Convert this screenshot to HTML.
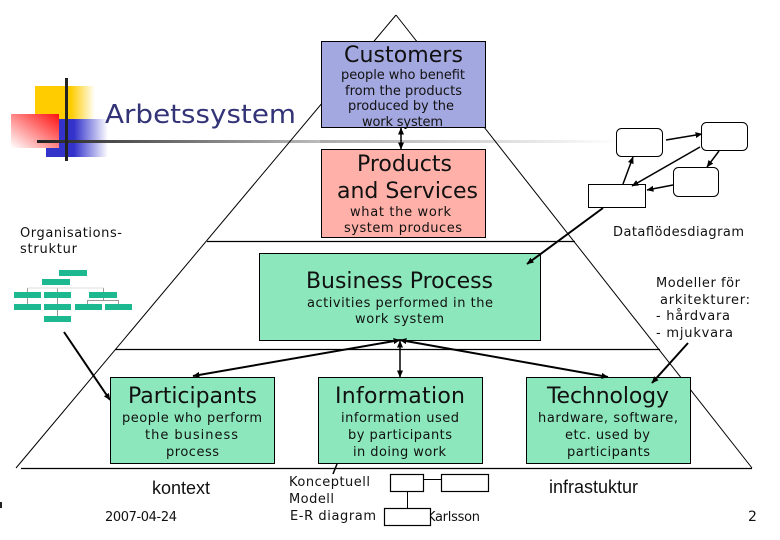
<!DOCTYPE html>
<html>
<head>
<meta charset="utf-8">
<style>
html,body{margin:0;padding:0;background:#fff}
svg{display:block}
text{font-family:"DejaVu Sans","Liberation Sans",sans-serif;fill:#111}
.a{font-family:"Liberation Sans",sans-serif}
</style>
</head>
<body>
<svg width="780" height="540" viewBox="0 0 780 540" xmlns="http://www.w3.org/2000/svg">
<defs>
<linearGradient id="y"><stop offset=".6" stop-color="#ffcc00"/><stop offset="1" stop-color="#fff"/></linearGradient>
<linearGradient id="b"><stop offset=".45" stop-color="#3333cc"/><stop offset="1" stop-color="#fff"/></linearGradient>
<linearGradient id="r" x1="1" y1="0" x2="0" y2="1"><stop offset="0" stop-color="#ff1010"/><stop offset="1" stop-color="#fff"/></linearGradient>
<linearGradient id="l"><stop offset="0" stop-color="#222"/><stop offset=".55" stop-color="#777"/><stop offset="1" stop-color="#bbb"/></linearGradient>
<linearGradient id="l2"><stop offset="0" stop-color="#aaa"/><stop offset="1" stop-color="#fff"/></linearGradient>
<marker id="m" markerWidth="7" markerHeight="6" refX="6.500" refY="3" orient="auto" markerUnits="userSpaceOnUse"><path d="M0 0L7 3L0 6z" fill="#000"/></marker>
<marker id="s" markerWidth="7" markerHeight="6" refX=".5" refY="3" orient="auto" markerUnits="userSpaceOnUse"><path d="M7 0L0 3L7 6z" fill="#000"/></marker>
</defs>

<!-- logo -->
<rect x="35" y="86" width="60" height="33" fill="url(#y)"/>
<rect x="46" y="119" width="62" height="38" fill="url(#b)"/>
<rect x="11" y="114" width="48" height="34" fill="url(#r)"/>
<rect x="37" y="140" width="283" height="3" fill="url(#l)"/>
<rect x="320" y="140" width="300" height="3" fill="url(#l2)"/>
<rect x="65" y="78" width="3" height="83" fill="#222"/>

<text x="105" y="123" font-size="26" style="fill:#333377" textLength="191" lengthAdjust="spacingAndGlyphs">Arbetssystem</text>

<!-- pyramid -->
<path d="M396 15L16 468M396 15L752 468" stroke="#000" fill="none" stroke-width="1"/>
<path d="M21 468.500H752M207 241.500H575M115 349.500H660" stroke="#000" fill="none" stroke-width="1.300"/>

<!-- boxes -->
<rect x="321.500" y="41.500" width="164" height="86" fill="#a4a8e0" stroke="#000"/>
<rect x="321.500" y="149.500" width="164" height="88" fill="#ffb0a8" stroke="#000"/>
<rect x="259.500" y="253.500" width="281" height="87" fill="#8ce8bc" stroke="#000"/>
<rect x="110.500" y="377.500" width="164" height="86" fill="#8ce8bc" stroke="#000"/>
<rect x="318.500" y="377.500" width="164" height="86" fill="#8ce8bc" stroke="#000"/>
<rect x="526.500" y="377.500" width="164" height="86" fill="#8ce8bc" stroke="#000"/>

<!-- center arrows -->
<g stroke="#000" stroke-width="1.500" fill="none">
<line x1="401" y1="128" x2="401" y2="149" marker-start="url(#s)" marker-end="url(#m)"/>
<line x1="400" y1="341" x2="400" y2="377" marker-start="url(#s)" marker-end="url(#m)"/>
<line x1="400" y1="340" x2="193" y2="376" marker-start="url(#s)" marker-end="url(#m)" stroke-width="2"/>
<line x1="400" y1="340" x2="608" y2="377" marker-start="url(#s)" marker-end="url(#m)" stroke-width="2"/>
<!-- side arrows -->
<line x1="64" y1="332" x2="110" y2="400" marker-end="url(#m)" stroke-width="2"/>
<line x1="603" y1="208" x2="527" y2="264" marker-end="url(#m)" stroke-width="2"/>
<line x1="688" y1="343" x2="652" y2="383" marker-end="url(#m)" stroke-width="2"/>
<line x1="337" y1="464" x2="333" y2="474" stroke-width="1.500"/>
</g>

<!-- text in boxes -->
<text x="344" y="62" font-size="22" textLength="119">Customers</text>
<text x="341" y="79" font-size="13" textLength="124">people who benefit</text>
<text x="345" y="95" font-size="13" textLength="117">from the products</text>
<text x="348" y="110" font-size="13" textLength="106">produced by the</text>
<text x="362" y="126" font-size="13" textLength="81">work system</text>

<text x="357" y="171" font-size="22" textLength="95">Products</text>
<text x="337" y="198" font-size="22" textLength="141">and Services</text>
<text x="350" y="216" font-size="13" textLength="101">what the work</text>
<text x="344" y="232" font-size="13" textLength="118">system produces</text>

<text x="306" y="288" font-size="22" textLength="187">Business Process</text>
<text x="307" y="307" font-size="13" textLength="186">activities performed in the</text>
<text x="355" y="323" font-size="13" textLength="89">work system</text>

<text x="128" y="403" font-size="22" textLength="129">Participants</text>
<text x="122" y="422" font-size="13" textLength="140">people who perform</text>
<text x="145" y="439" font-size="13" textLength="93">the business</text>
<text x="166" y="456" font-size="13" textLength="53">process</text>

<text x="335" y="403" font-size="22" textLength="130">Information</text>
<text x="341" y="422" font-size="13" textLength="118">information used</text>
<text x="348" y="439" font-size="13" textLength="104">by participants</text>
<text x="353" y="456" font-size="13" textLength="93">in doing work</text>

<text x="547" y="403" font-size="22" textLength="122">Technology</text>
<text x="538" y="422" font-size="13" textLength="140">hardware, software,</text>
<text x="565" y="439" font-size="13" textLength="85">etc. used by</text>
<text x="567" y="456" font-size="13" textLength="83">participants</text>

<!-- side labels -->
<text x="20" y="237" font-size="13" textLength="102">Organisations-</text>
<text x="20" y="253" font-size="13" textLength="57">struktur</text>
<text x="613" y="236" font-size="13" textLength="131">Dataflödesdiagram</text>
<text x="656" y="287" font-size="13" textLength="84">Modeller för</text>
<text x="660" y="304" font-size="13" textLength="90">arkitekturer:</text>
<text x="656" y="320" font-size="13" textLength="74">- hårdvara</text>
<text x="656" y="337" font-size="13" textLength="77">- mjukvara</text>
<text x="152" y="494" font-size="18" class="a" textLength="58">kontext</text>
<text x="549" y="493" font-size="18" class="a" textLength="89">infrastuktur</text>
<text x="105" y="521" font-size="13" textLength="72">2007-04-24</text>
<text x="289" y="486" font-size="13" textLength="81">Konceptuell</text>
<text x="289" y="503" font-size="13" textLength="45">Modell</text>
<text x="290" y="520" font-size="13" textLength="86">E-R diagram</text>

<!-- org chart -->
<path d="M27.500 288V304M57.500 288V316M103.500 288V292M103.500 298V300M87.500 304V300.500H118.500V304" stroke="#999" stroke-width="1" fill="none"/>
<path d="M27.500 288H103.500" stroke="#ddd" stroke-width="1" fill="none"/>
<g fill="#1cb890">
<rect x="59" y="270" width="28" height="6"/>
<rect x="42" y="279" width="28" height="6"/>
<rect x="14" y="292" width="27" height="6"/>
<rect x="44" y="292" width="27" height="6"/>
<rect x="89" y="292" width="28" height="6"/>
<rect x="14" y="304" width="27" height="6"/>
<rect x="44" y="304" width="27" height="6"/>
<rect x="75" y="304" width="27" height="6"/>
<rect x="105" y="304" width="27" height="6"/>
<rect x="44" y="316" width="27" height="6"/>
</g>

<!-- data flow diagram -->
<g fill="#fff" stroke="#000">
<rect x="616.500" y="128.500" width="46" height="28" rx="5"/>
<rect x="701.500" y="122.500" width="46" height="28" rx="5"/>
<rect x="673.500" y="167.500" width="45" height="29" rx="5"/>
<rect x="588.500" y="184.500" width="57" height="23"/>
</g>
<g stroke="#000" stroke-width="1.500" fill="none">
<line x1="666" y1="140" x2="702" y2="134" marker-end="url(#m)"/>
<line x1="700" y1="147" x2="632" y2="186" marker-end="url(#m)"/>
<line x1="719" y1="151" x2="707" y2="167" marker-end="url(#m)"/>
<line x1="673" y1="185" x2="647" y2="190" marker-end="url(#m)"/>
<line x1="623" y1="184" x2="633" y2="157" marker-end="url(#m)"/>
</g>

<!-- ER diagram -->
<text x="427" y="521" font-size="13" textLength="53">Karlsson</text>
<text x="748" y="521" font-size="14" textLength="8">2</text>
<rect x="0" y="502" width="2" height="6" fill="#222"/>
<g fill="#fff" stroke="#000" stroke-width="1.200">
<rect x="390.500" y="474.500" width="33" height="17"/>
<rect x="441.500" y="474.500" width="47" height="17"/>
</g>
<rect x="384.500" y="508.500" width="46" height="17" fill="#fff" stroke="#000" stroke-width="1.200"/>
<path d="M424 479.500H442M407.500 492V509" stroke="#000" stroke-width="1" fill="none"/>
</svg>
</body>
</html>
